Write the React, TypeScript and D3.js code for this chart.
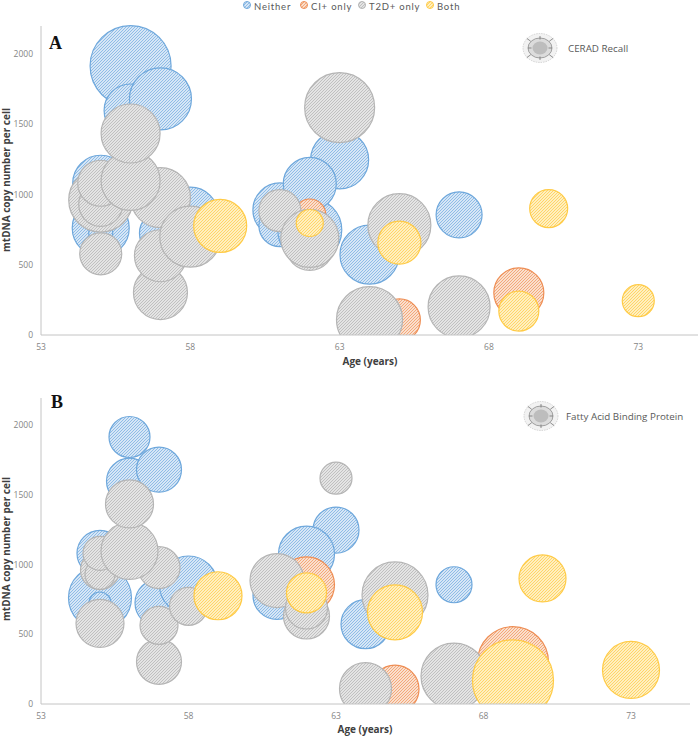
import React from "react";
import * as d3 from "d3";

type Bubble = [number, number, number, number];

// age, mtDNA copy number, bubble size in panel A, bubble size in panel B
const neither: Bubble[] = [
  [56, 1914, 81, 41], [56, 1598, 53, 46], [57, 1680, 62, 45], [63, 1247, 58, 46],
  [55, 1080, 56, 46], [55, 762, 57, 63], [55, 724, 24, 22], [57, 725, 42, 48],
  [58, 853, 56, 58], [61, 890, 54, 40], [61, 778, 42, 48], [62, 747, 64, 40],
  [62, 1075, 53, 56], [64, 572, 59, 49], [67, 855, 46, 36],
];
const ciOnly: Bubble[] = [
  [62, 854, 32, 56], [65, 107, 42, 48], [69, 300, 50, 71],
];
const t2dOnly: Bubble[] = [
  [55, 960, 64, 39], [55, 930, 44, 30], [55, 1080, 46, 34], [55, 578, 42, 48],
  [57, 978, 60, 42], [57, 302, 54, 45], [57, 564, 52, 38], [58, 700, 61, 38],
  [56, 1097, 59, 57], [56, 1434, 59, 48], [61, 885, 42, 54], [62, 631, 48, 46],
  [62, 688, 58, 42], [63, 1619, 70, 32], [64, 110, 66, 52], [65, 782, 63, 66],
  [67, 200, 62, 66],
];
const both: Bubble[] = [
  [59, 776, 53, 48], [62, 797, 27, 40], [65, 657, 43, 55], [69, 170, 40, 81],
  [70, 900, 38, 47], [73, 244, 32, 57],
];

const seriesNames = ["Neither", "CI+ only", "T2D+ only", "Both"];
const seriesData = [neither, ciOnly, t2dOnly, both];
const strokes = ["#6fa8dc", "#ee8e55", "#b5b5b5", "#ffcb47"];
const hatchBase = ["#d6e6f6", "#fadfcd", "#e4e4e4", "#ffefc0"];
const hatchLine = ["#8fbce6", "#f3a87a", "#c0c0c0", "#ffd568"];
const xTicks = [53, 58, 63, 68, 73];
const yTicks = [0, 500, 1000, 1500, 2000];
const xTitle = "Age (years)";
const yTitle = "mtDNA copy number per cell";

const FONT = "'Open Sans', 'Noto Sans', sans-serif";

function Hatches() {
  return (
    <defs>
      {strokes.map((_, i) => (
        <pattern key={i} id={`h${i}`} width={3} height={3} patternUnits="userSpaceOnUse">
          <rect width={3} height={3} fill={hatchBase[i]} />
          <path d="M-1,1L1,-1M0,3L3,0M2,4L4,2" stroke={hatchLine[i]} strokeWidth={1} fill="none" />
        </pattern>
      ))}
    </defs>
  );
}

function Icon({ cx, cy }: { cx: number; cy: number }) {
  const rays: [number, number][] = [[-11, -8], [11, -8], [-11, 8], [11, 8], [0, -10], [0, 10], [-10, 0], [10, 0]];
  return (
    <g>
      <ellipse cx={cx} cy={cy} rx={17} ry={14.5} fill="#f2f2f2" stroke="#c4c4c4" strokeWidth={0.7} strokeDasharray="1.5 1" />
      <ellipse cx={cx} cy={cy} rx={12} ry={10} fill="#dcdcdc" stroke="#8c8c8c" strokeWidth={0.8} />
      <ellipse cx={cx} cy={cy} rx={7.5} ry={6.5} fill="#bdbdbd" />
      {rays.map(([dx, dy], i) => (
        <line key={i} x1={cx + dx * 0.85} y1={cy + dy * 0.85} x2={cx + dx * 1.2} y2={cy + dy * 1.2} stroke="#666666" strokeWidth={0.7} />
      ))}
    </g>
  );
}

function Panel(props: {
  id: string; left: number; right: number; bottom: number; top2000: number; axisTop: number; sizeIdx: 2 | 3;
  letter: string; letterX: number; letterY: number; iconX: number; iconY: number; label: string; labelX: number; xLabelX: number; xLabelY: number;
}) {
  const p = props;
  const x = d3.scaleLinear().domain([53, 75]).range([p.left, p.right]);
  const y = d3.scaleLinear().domain([0, 2000]).range([p.bottom, p.top2000]);
  const r = d3.scaleLinear().domain([0, 100]).range([0, 50]);
  return (
    <g fontFamily={FONT}>
      <clipPath id={`clip${p.id}`}>
        <rect x={p.left} y={p.axisTop - 10} width={p.right - p.left} height={p.bottom - p.axisTop + 10} />
      </clipPath>
      <g clipPath={`url(#clip${p.id})`}>
        {seriesData.map((s, si) => (
          <g key={si}>
            {s.map((d, i) => (
              <circle key={i} cx={x(d[0])} cy={y(d[1])} r={r(d[p.sizeIdx])} fill={`url(#h${si})`} stroke={strokes[si]} strokeWidth={1.2} />
            ))}
          </g>
        ))}
      </g>
      <line x1={p.left} x2={p.left} y1={p.axisTop} y2={p.bottom} stroke="#c4c4c4" strokeWidth={1} />
      <line x1={p.left} x2={p.right} y1={p.bottom} y2={p.bottom} stroke="#c4c4c4" strokeWidth={1} />
      {yTicks.map((t) => (
        <text key={t} x={p.left - 8} y={y(t) + 3} textAnchor="end" fontSize={8.5} fill="#858585">{t}</text>
      ))}
      {xTicks.map((t) => (
        <text key={t} x={x(t)} y={p.bottom + 15} textAnchor="middle" fontSize={8.5} fill="#858585">{t}</text>
      ))}
      <text x={p.xLabelX} y={p.xLabelY} textAnchor="middle" fontSize={10} fontWeight={700} fill="#404040">{xTitle}</text>
      <text transform={`translate(10,${p.bottom - 155}) rotate(-90)`} textAnchor="middle" fontSize={10} fontWeight={700} fill="#404040">{yTitle}</text>
      <text x={p.letterX} y={p.letterY} fontFamily="'Liberation Serif', serif" fontWeight={700} fontSize={18} fill="#111111">{p.letter}</text>
      <Icon cx={p.iconX} cy={p.iconY} />
      <text x={p.labelX} y={p.iconY + 4} fontSize={9.8} fill="#595959">{p.label}</text>
    </g>
  );
}

const legendX = [247, 304, 362, 430];

export default function App() {
  return (
    <svg width={698} height={736} style={{ position: "absolute", left: 0, top: 0, display: "block", background: "#fff" }}>
      <Hatches />
      {seriesNames.map((n, i) => (
        <g key={n}>
          <circle cx={legendX[i]} cy={5} r={3.5} fill={`url(#h${i})`} stroke={strokes[i]} strokeWidth={1} />
          <text x={legendX[i] + 7} y={9.5} fontFamily="Lato, sans-serif" fontSize={9.5} letterSpacing={0.8} fill="#595959">{n}</text>
        </g>
      ))}
      <Panel id="a" left={41} right={698} bottom={335} top2000={54} axisTop={26} sizeIdx={2} letter="A" letterX={49} letterY={49} iconX={540} iconY={48} label="CERAD Recall" labelX={568} xLabelX={370} xLabelY={365} />
      <Panel id="b" left={41} right={690} bottom={704} top2000={425} axisTop={398} sizeIdx={3} letter="B" letterX={51} letterY={408} iconX={541} iconY={416} label="Fatty Acid Binding Protein" labelX={566} xLabelX={365} xLabelY={733} />
    </svg>
  );
}
